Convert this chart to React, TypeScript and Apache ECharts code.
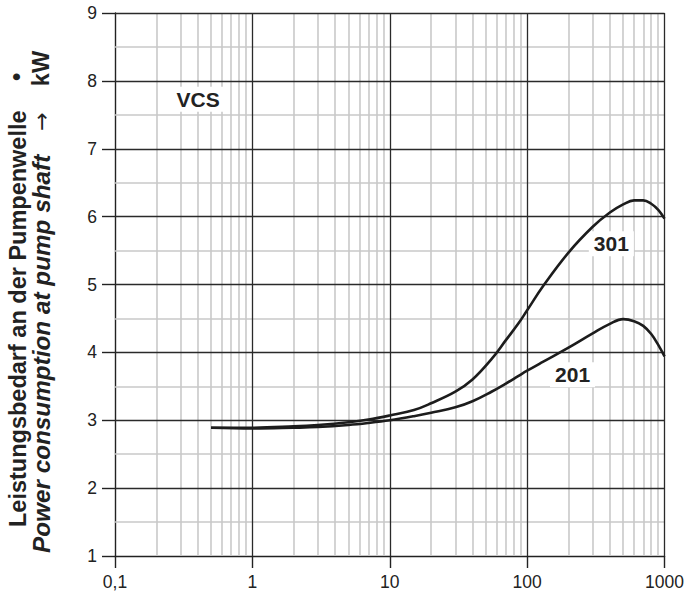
import { useEffect, useRef } from 'react';
import * as echarts from 'echarts';

// Flow rate (log axis) and power consumption values
const flowX = [0.5, 1, 2, 3, 5, 7, 10, 15, 20, 30, 40, 55, 70, 86, 100, 130, 200, 300, 400, 500, 600, 700, 800, 900, 1000];
const power301 = [2.89, 2.89, 2.91, 2.93, 2.97, 3.01, 3.07, 3.15, 3.25, 3.42, 3.6, 3.9, 4.18, 4.42, 4.62, 4.97, 5.47, 5.85, 6.06, 6.18, 6.24, 6.24, 6.19, 6.1, 5.97];
const power201 = [2.89, 2.88, 2.89, 2.9, 2.93, 2.96, 3.0, 3.06, 3.11, 3.19, 3.28, 3.42, 3.54, 3.65, 3.73, 3.86, 4.07, 4.28, 4.42, 4.49, 4.46, 4.39, 4.27, 4.11, 3.94];

// Grid lines
const xMajorGrid = [1, 10, 100, 1000];
const xMinorGrid = [0.2, 0.3, 0.4, 0.5, 0.6, 0.7, 0.8, 0.9, 2, 3, 4, 5, 6, 7, 8, 9, 20, 30, 40, 50, 60, 70, 80, 90, 200, 300, 400, 500, 600, 700, 800, 900];
const yMajorGrid = [2, 3, 4, 5, 6, 7, 8, 9];
const yMinorGrid = [1.5, 2.5, 3.5, 4.5, 5.5, 6.5, 7.5, 8.5];

// Annotations (text, position in data units)
const noteTexts = ['VCS', '301', '201'];
const noteX = [0.403, 410, 214];
const noteY = [7.73, 5.6, 3.67];

const FONT = '"Liberation Sans", Arial, Helvetica, sans-serif';

export default function App() {
  const ref = useRef<HTMLDivElement>(null);
  useEffect(() => {
    if (!ref.current) return;
    const chart = echarts.init(ref.current, undefined, { renderer: 'svg' });
    const gridLine = (vals: number[], key: 'xAxis' | 'yAxis') => vals.map((v) => ({ [key]: v }));
    chart.setOption({
      animation: false,
      backgroundColor: '#fff',
      textStyle: { fontFamily: FONT },
      grid: { left: 115, right: 20, top: 13, bottom: 40 },
      xAxis: {
        type: 'log',
        logBase: 10,
        min: 0.1,
        max: 1000,
        axisLine: { show: true, lineStyle: { color: '#222', width: 1.4 } },
        axisTick: { show: true, inside: false, length: 12, lineStyle: { color: '#222', width: 1.4 } },
        axisLabel: {
          fontSize: 17.5,
          color: '#222',
          margin: 17,
          fontFamily: FONT,
          formatter: (v: number) => String(v).replace('.', ','),
        },
        splitLine: { show: false },
      },
      yAxis: {
        type: 'value',
        min: 1,
        max: 9,
        interval: 1,
        axisLine: { show: true, lineStyle: { color: '#222', width: 1.4 } },
        axisTick: { show: true, inside: false, length: 13, lineStyle: { color: '#222', width: 1.4 } },
        axisLabel: { fontSize: 17.5, color: '#222', margin: 18, fontFamily: FONT },
        splitLine: { show: false },
      },
      graphic: [
        {
          type: 'text', x: 18, y: 527, rotation: Math.PI / 2, silent: true,
          style: { text: 'Leistungsbedarf an der Pumpenwelle', font: `bold 23.5px ${FONT}`, fill: '#222', textAlign: 'left', textVerticalAlign: 'middle' },
        },
        {
          type: 'text', x: 17, y: 77, rotation: Math.PI / 2, silent: true,
          style: { text: '•', font: `bold 23.5px ${FONT}`, fill: '#222', textAlign: 'center', textVerticalAlign: 'middle' },
        },
        {
          type: 'text', x: 41, y: 553, rotation: Math.PI / 2, silent: true,
          style: { text: 'Power consumption at pump shaft', font: `italic bold 24.3px ${FONT}`, fill: '#222', textAlign: 'left', textVerticalAlign: 'middle' },
        },
        {
          type: 'text', x: 41, y: 121.5, rotation: Math.PI / 2, silent: true,
          style: { text: '→', font: `22px "DejaVu Sans", ${FONT}`, fill: '#222', textAlign: 'center', textVerticalAlign: 'middle' },
        },
        {
          type: 'text', x: 41, y: 68.5, rotation: Math.PI / 2, silent: true,
          style: { text: 'kW', font: `bold 23.5px ${FONT}`, fill: '#222', textAlign: 'center', textVerticalAlign: 'middle' },
        },
      ],
      series: [
        {
          name: 'minorGrid',
          type: 'line',
          data: [],
          z: 1,
          silent: true,
          markLine: {
            z: 1,
            silent: true,
            symbol: ['none', 'none'],
            label: { show: false },
            lineStyle: { type: 'solid', color: '#c9c9c9', width: 1.6 },
            emphasis: { disabled: true },
            data: [...gridLine(xMinorGrid, 'xAxis'), ...gridLine(yMinorGrid, 'yAxis')],
          },
        },
        {
          name: 'majorGrid',
          type: 'line',
          data: [],
          z: 2,
          silent: true,
          markLine: {
            z: 2,
            silent: true,
            symbol: ['none', 'none'],
            label: { show: false },
            lineStyle: { type: 'solid', color: '#2a2a2a', width: 1.3 },
            emphasis: { disabled: true },
            data: [...gridLine(xMajorGrid, 'xAxis'), ...gridLine(yMajorGrid, 'yAxis')],
          },
        },
        {
          name: '301',
          type: 'line',
          z: 10,
          smooth: 0.4,
          showSymbol: false,
          silent: true,
          lineStyle: { color: '#1c1c1c', width: 2.6 },
          data: flowX.map((x, i) => [x, power301[i]]),
        },
        {
          name: '201',
          type: 'line',
          z: 10,
          smooth: 0.4,
          showSymbol: false,
          silent: true,
          lineStyle: { color: '#1c1c1c', width: 2.6 },
          data: flowX.map((x, i) => [x, power201[i]]),
          markPoint: {
            z: 5,
            silent: true,
            symbol: 'rect',
            symbolSize: 1,
            itemStyle: { color: 'rgba(0,0,0,0)' },
            label: {
              show: true,
              position: 'inside',
              formatter: (p: any) => p.name,
              fontSize: 21,
              fontWeight: 'bold',
              fontFamily: FONT,
              color: '#222',
              backgroundColor: '#fff',
              padding: [3, 5, 1, 5],
            },
            data: noteTexts.map((t, i) => ({ name: t, coord: [noteX[i], noteY[i]] })),
          },
        },
      ],
    });
    return () => chart.dispose();
  }, []);
  return <div ref={ref} style={{ position: 'fixed', left: 0, top: 0, width: 687, height: 596 }} />;
}
